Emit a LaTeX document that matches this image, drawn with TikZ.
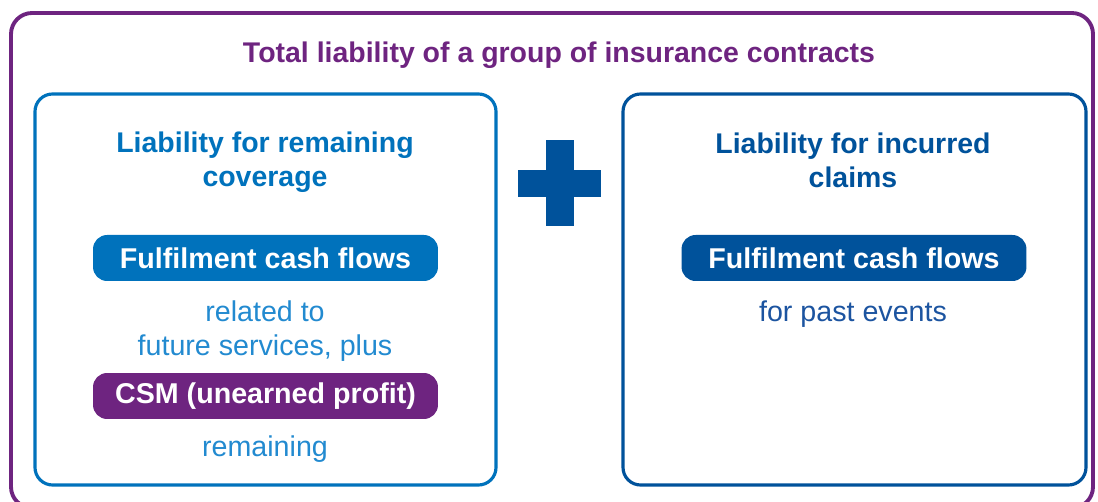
\documentclass[tikz,border=0pt]{standalone}
\usepackage{fontspec}
\setmainfont{Liberation Sans}
\newfontfamily\headbold{Liberation Sans Bold}
\newfontfamily\bodyreg{Liberation Sans}
\definecolor{kpurple}{RGB}{110,36,128}
\definecolor{kblue}{RGB}{0,114,188}
\definecolor{kdark}{RGB}{0,82,155}
\definecolor{klight}{RGB}{34,138,208}
\definecolor{kdarktext}{RGB}{28,84,160}
\tikzset{
  frame/.style={draw=kpurple,line width=2.2pt,rounded corners=12pt},
  panel/.style={line width=1.8pt,rounded corners=10pt},
  heading/.style={font=\headbold\fontsize{16.2}{19.4}\selectfont,align=center},
  pill/.style={fill=#1,text=white,rounded corners=8pt,minimum width=6.9cm,minimum height=0.92cm,font=\headbold\fontsize{16.3}{19}\selectfont,inner sep=0pt},
  note/.style={font=\bodyreg\fontsize{16.3}{19.4}\selectfont,align=center}
}
\begin{document}
\begin{tikzpicture}[x=0.02cm,y=-0.02cm]
\useasboundingbox (0,0) rectangle (1098,502);
% outer group frame
\draw[frame] (11,13) rectangle (1093,508);
\node[heading,text=kpurple] (title) at (559,55) {Total liability of a group of insurance contracts};
% left panel: remaining coverage
\draw[panel,draw=kblue] (35,94) rectangle (496,485);
\node[heading,text=kblue] (lrc) at (265,162) {Liability for remaining\\coverage};
\node[pill=kblue] (fcfL) at (265.5,258) {Fulfilment cash flows};
\node[note,text=klight] (futr) at (265,331) {related to\\future services, plus};
\node[pill=kpurple] (csm) at (265.5,396) {CSM (unearned profit)};
\node[note,text=klight] (rem) at (265,449) {remaining};
% plus sign
\fill[kdark] (518,170) rectangle (601,197);
\fill[kdark] (546,140) rectangle (574,226);
% right panel: incurred claims
\draw[panel,draw=kdark] (623,94) rectangle (1086,485);
\node[heading,text=kdark] (lic) at (853,160) {Liability for incurred\\claims};
\node[pill=kdark] (fcfR) at (854,258) {Fulfilment cash flows};
\node[note,text=kdarktext] (past) at (853,314) {for past events};
\end{tikzpicture}
\end{document}
